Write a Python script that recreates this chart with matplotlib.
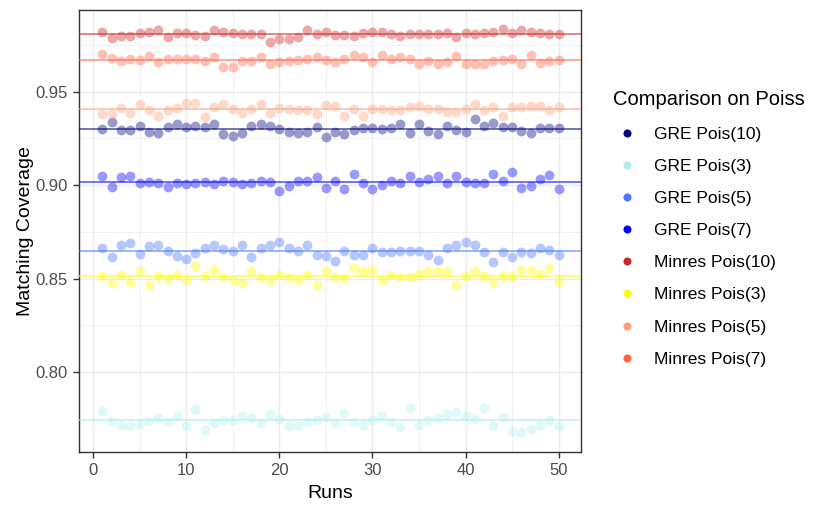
import numpy as np
import matplotlib
matplotlib.use("Agg")
import matplotlib.pyplot as plt
from matplotlib.lines import Line2D

plt.rcParams['font.family'] = ['Liberation Sans', 'DejaVu Sans']

runs = list(range(1, 51))

series_names = ["GRE Pois(10)", "GRE Pois(3)", "GRE Pois(5)", "GRE Pois(7)",
                "Minres Pois(10)", "Minres Pois(3)", "Minres Pois(5)", "Minres Pois(7)"]
series_colors = ["#000080", "#AFEEEE", "#4876FF", "#0000FF",
                 "#CD2626", "#FFFF00", "#FFA07A", "#FF6347"]

gre_10 = [0.9299, 0.9338, 0.9297, 0.9297, 0.9317, 0.9285, 0.9278, 0.9312, 0.9326, 0.9312,
          0.9317, 0.9312, 0.9326, 0.9271, 0.9264, 0.9278, 0.9317, 0.9326, 0.9317, 0.9301,
          0.9285, 0.9278, 0.9285, 0.9312, 0.9257, 0.9285, 0.9271, 0.9296, 0.9303, 0.9303,
          0.9299, 0.9305, 0.9324, 0.9276, 0.9328, 0.9287, 0.9271, 0.9317, 0.9294, 0.9285,
          0.9351, 0.9315, 0.9330, 0.9310, 0.9312, 0.9287, 0.9280, 0.9303, 0.9303, 0.9303]
gre_3 = [0.7794, 0.7738, 0.7719, 0.7714, 0.7721, 0.7738, 0.7756, 0.7733, 0.7765, 0.7712,
         0.7803, 0.7689, 0.7728, 0.7744, 0.7744, 0.7765, 0.7756, 0.7726, 0.7774, 0.7747,
         0.7714, 0.7714, 0.7735, 0.7744, 0.7762, 0.7726, 0.7779, 0.7733, 0.7719, 0.7742,
         0.7765, 0.7733, 0.7705, 0.7810, 0.7719, 0.7742, 0.7756, 0.7774, 0.7787, 0.7765,
         0.7749, 0.7810, 0.7712, 0.7758, 0.7687, 0.7680, 0.7698, 0.7717, 0.7744, 0.7712]
gre_5 = [0.8665, 0.8613, 0.8679, 0.8688, 0.8633, 0.8672, 0.8679, 0.8649, 0.8621, 0.8604,
         0.8635, 0.8665, 0.8679, 0.8660, 0.8649, 0.8679, 0.8617, 0.8665, 0.8679, 0.8697,
         0.8665, 0.8649, 0.8679, 0.8626, 0.8621, 0.8594, 0.8649, 0.8626, 0.8626, 0.8665,
         0.8640, 0.8640, 0.8649, 0.8649, 0.8649, 0.8626, 0.8599, 0.8665, 0.8679, 0.8697,
         0.8679, 0.8640, 0.8590, 0.8644, 0.8617, 0.8644, 0.8635, 0.8665, 0.8653, 0.8626]
gre_7 = [0.9048, 0.8991, 0.9041, 0.9048, 0.9009, 0.9016, 0.9009, 0.8991, 0.9009, 0.9004,
         0.9009, 0.9016, 0.9004, 0.9023, 0.9016, 0.9004, 0.9009, 0.9023, 0.9016, 0.8970,
         0.8995, 0.9023, 0.9023, 0.9041, 0.8984, 0.9023, 0.8977, 0.9061, 0.9009, 0.8977,
         0.9000, 0.9023, 0.9009, 0.9048, 0.9016, 0.9030, 0.9048, 0.9009, 0.9048, 0.9016,
         0.9009, 0.9009, 0.9061, 0.9023, 0.9068, 0.8984, 0.8996, 0.9032, 0.9053, 0.8977]
minres_10 = [0.9817, 0.9788, 0.9799, 0.9799, 0.9813, 0.9820, 0.9827, 0.9790, 0.9813, 0.9813,
             0.9801, 0.9799, 0.9827, 0.9818, 0.9813, 0.9806, 0.9806, 0.9806, 0.9767, 0.9781,
             0.9781, 0.9794, 0.9831, 0.9806, 0.9820, 0.9802, 0.9802, 0.9797, 0.9813, 0.9820,
             0.9818, 0.9806, 0.9797, 0.9806, 0.9806, 0.9806, 0.9806, 0.9813, 0.9790, 0.9813,
             0.9806, 0.9813, 0.9820, 0.9834, 0.9813, 0.9827, 0.9820, 0.9813, 0.9806, 0.9806]
minres_3 = [0.8513, 0.8474, 0.8518, 0.8483, 0.8540, 0.8468, 0.8513, 0.8501, 0.8518, 0.8492,
            0.8566, 0.8513, 0.8545, 0.8509, 0.8492, 0.8477, 0.8540, 0.8506, 0.8492, 0.8518,
            0.8509, 0.8492, 0.8518, 0.8468, 0.8540, 0.8509, 0.8501, 0.8554, 0.8540, 0.8545,
            0.8492, 0.8518, 0.8506, 0.8506, 0.8527, 0.8540, 0.8540, 0.8540, 0.8468, 0.8513,
            0.8540, 0.8513, 0.8483, 0.8513, 0.8513, 0.8545, 0.8545, 0.8527, 0.8554, 0.8483]
minres_5 = [0.9378, 0.9378, 0.9413, 0.9387, 0.9431, 0.9401, 0.9369, 0.9401, 0.9410, 0.9438,
            0.9438, 0.9365, 0.9415, 0.9431, 0.9408, 0.9388, 0.9408, 0.9431, 0.9387, 0.9413,
            0.9408, 0.9401, 0.9401, 0.9378, 0.9428, 0.9424, 0.9369, 0.9406, 0.9369, 0.9408,
            0.9408, 0.9404, 0.9401, 0.9415, 0.9422, 0.9408, 0.9406, 0.9392, 0.9392, 0.9406,
            0.9431, 0.9401, 0.9419, 0.9372, 0.9415, 0.9415, 0.9422, 0.9422, 0.9401, 0.9415]
minres_7 = [0.9700, 0.9682, 0.9663, 0.9675, 0.9670, 0.9688, 0.9656, 0.9675, 0.9675, 0.9675,
            0.9675, 0.9664, 0.9686, 0.9631, 0.9629, 0.9663, 0.9663, 0.9686, 0.9647, 0.9656,
            0.9663, 0.9670, 0.9675, 0.9686, 0.9670, 0.9659, 0.9675, 0.9695, 0.9684, 0.9659,
            0.9696, 0.9675, 0.9686, 0.9675, 0.9645, 0.9663, 0.9647, 0.9657, 0.9688, 0.9647,
            0.9650, 0.9650, 0.9666, 0.9668, 0.9675, 0.9645, 0.9696, 0.9652, 0.9663, 0.9668]

# horizontal reference lines (one per series, same order)
mean_lines = [0.9301, 0.7742, 0.8649, 0.9016, 0.9806, 0.8513, 0.9408, 0.9668]

all_series = [gre_10, gre_3, gre_5, gre_7, minres_10, minres_3, minres_5, minres_7]

fig = plt.figure(figsize=(8.31, 5.14), dpi=100)
ax = fig.add_axes([0.0951, 0.1212, 0.6041, 0.8603])

for vals, col in zip(all_series, series_colors):
    ax.scatter(runs, vals, s=50, color=col, alpha=0.4, linewidths=0, zorder=3)
for m, col in zip(mean_lines, series_colors):
    ax.axhline(m, color=col, alpha=0.7, lw=1.1, zorder=4)

ax.set_xlim(-1.5, 52.4)
ax.set_ylim(0.7574, 0.9939)
ax.set_xticks([0, 10, 20, 30, 40, 50])
ax.set_xticks([5, 15, 25, 35, 45], minor=True)
ax.set_yticks([0.80, 0.85, 0.90, 0.95])
ax.set_yticklabels(["0.80", "0.85", "0.90", "0.95"])
ax.set_yticks([0.775, 0.825, 0.875, 0.925, 0.975], minor=True)
ax.grid(which='major', color='#EBEBEB', lw=1.0, zorder=0)
ax.grid(which='minor', color='#EBEBEB', lw=0.5, zorder=0)
ax.set_axisbelow(True)
ax.tick_params(which='major', length=4, width=1.0, color='#333333',
               labelsize=12, labelcolor='#4D4D4D', pad=4)
ax.tick_params(which='minor', length=0)
for sp in ax.spines.values():
    sp.set_color('#333333')
    sp.set_linewidth(1.0)

ax.set_xlabel("Runs", fontsize=14, labelpad=5)
ax.set_ylabel("Matching Coverage", fontsize=14, labelpad=1)

handles = [Line2D([], [], marker='o', linestyle='none', markersize=5.8,
                  markerfacecolor=c, markeredgewidth=0) for c in series_colors]
leg = fig.legend(handles, series_names, loc='upper left',
                 bbox_to_anchor=(0.7373, 0.8240), frameon=False,
                 fontsize=12.5, title="Comparison on Poiss", title_fontsize=14.5,
                 alignment='left', borderpad=0, borderaxespad=0,
                 handlelength=1.6, handletextpad=0.78, labelspacing=0.98)

fig.savefig("out.png", dpi=100)
